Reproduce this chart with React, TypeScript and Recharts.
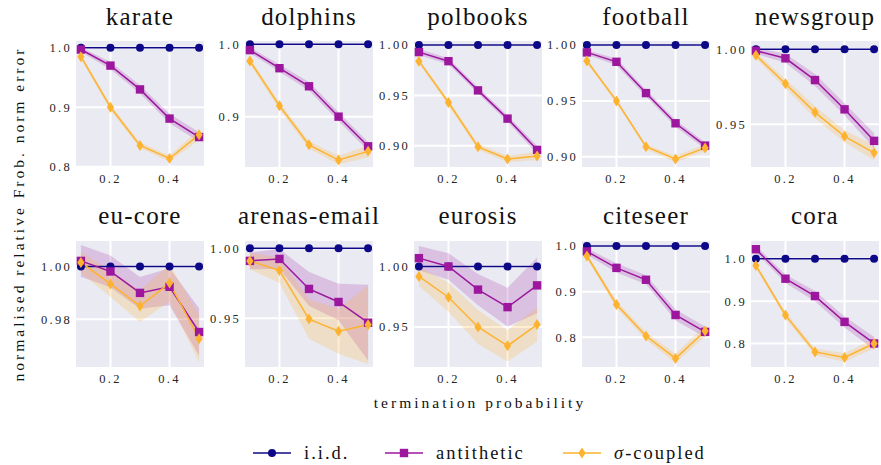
/* ── Termination probability sweep — small multiples ─────────────────── */

import { ComposedChart, Line, Area, XAxis, YAxis, CartesianGrid } from 'recharts';

const FONT = 'Liberation Serif';
const IID_COLOR = '#0d0887';
const ANTI_COLOR = '#9c179e';
const SIGMA_COLOR = '#fdb32f';
const BG = '#eaeaf2';

const PROBS = [0.1, 0.2, 0.3, 0.4, 0.5];
const X_TICKS = [0.2, 0.4];

const DATASETS = [
  'karate', 'dolphins', 'polbooks', 'football', 'newsgroup',
  'eu-core', 'arenas-email', 'eurosis', 'citeseer', 'cora',
];

const IID = [
  [1, 1, 1, 1, 1], [1, 1, 1, 1, 1], [1, 1, 1, 1, 1], [1, 1, 1, 1, 1], [1, 1, 1, 1, 1],
  [1, 1, 1, 1, 1], [1, 1, 1, 1, 1], [1, 1, 1, 1, 1], [1, 1, 1, 1, 1], [1, 1, 1, 1, 1],
];

const ANTITHETIC = [
  [0.997, 0.970, 0.930, 0.881, 0.850],
  [0.992, 0.967, 0.942, 0.900, 0.859],
  [0.993, 0.984, 0.955, 0.927, 0.896],
  [0.9934, 0.985, 0.957, 0.930, 0.910],
  [0.999, 0.994, 0.9795, 0.960, 0.939],
  [1.0021, 0.9981, 0.990, 0.9923, 0.9752],
  [0.991, 0.9924, 0.971, 0.9617, 0.9469],
  [1.0069, 1.000, 0.9809, 0.9664, 0.9844],
  [0.988, 0.952, 0.926, 0.849, 0.812],
  [1.0227, 0.953, 0.912, 0.851, 0.800],
];

const ANTITHETIC_ERR = [
  [0.004, 0.006, 0.007, 0.008, 0.008],
  [0.004, 0.005, 0.006, 0.006, 0.006],
  [0.003, 0.003, 0.003, 0.003, 0.004],
  [0.002, 0.003, 0.003, 0.003, 0.003],
  [0.002, 0.003, 0.004, 0.004, 0.005],
  [0.006, 0.006, 0.006, 0.007, 0.009],
  [0.006, 0.007, 0.012, 0.013, 0.027],
  [0.010, 0.011, 0.013, 0.016, 0.023],
  [0.007, 0.010, 0.010, 0.012, 0.012],
  [0.008, 0.010, 0.012, 0.013, 0.015],
];

const SIGMA_COUPLED = [
  [0.985, 0.900, 0.836, 0.814, 0.854],
  [0.977, 0.915, 0.861, 0.840, 0.852],
  [0.984, 0.943, 0.899, 0.887, 0.890],
  [0.9857, 0.950, 0.909, 0.898, 0.908],
  [0.996, 0.977, 0.958, 0.942, 0.931],
  [1.0015, 0.9934, 0.985, 0.9937, 0.9727],
  [0.991, 0.9842, 0.9495, 0.9408, 0.9455],
  [0.9918, 0.9746, 0.950, 0.9344, 0.952],
  [0.978, 0.872, 0.803, 0.754, 0.814],
  [0.984, 0.867, 0.780, 0.767, 0.800],
];

const SIGMA_COUPLED_ERR = [
  [0.004, 0.005, 0.005, 0.005, 0.009],
  [0.004, 0.005, 0.005, 0.006, 0.008],
  [0.002, 0.003, 0.003, 0.003, 0.004],
  [0.002, 0.002, 0.002, 0.003, 0.003],
  [0.002, 0.003, 0.004, 0.004, 0.005],
  [0.004, 0.005, 0.006, 0.007, 0.009],
  [0.006, 0.009, 0.014, 0.016, 0.028],
  [0.008, 0.012, 0.014, 0.013, 0.014],
  [0.006, 0.008, 0.008, 0.010, 0.012],
  [0.006, 0.008, 0.008, 0.010, 0.012],
];

const Y_TICKS = [
  [0.8, 0.9, 1.0], [0.9, 1.0], [0.9, 0.95, 1.0], [0.9, 0.95, 1.0], [0.95, 1.0],
  [0.98, 1.0], [0.95, 1.0], [0.95, 1.0], [0.8, 0.9, 1.0], [0.8, 0.9, 1.0],
];
const Y_DECIMALS = [1, 1, 2, 2, 2, 2, 2, 2, 1, 1];
const Y_DOMAINS = [
  [0.798, 1.013], [0.829, 1.006], [0.878, 1.005], [0.890, 1.0045], [0.9209, 1.0062],
  [0.9616, 1.010], [0.9146, 1.0059], [0.9161, 1.0219], [0.733, 1.013], [0.742, 1.0445],
];

/* layout */
const PANEL_LEFT = [75, 244, 413, 581, 750];
const ROW_TOP = [40, 240];
const PLOT_W = 130;
const PLOT_H = 128;
const Y_AXIS_W = 44;
const X_AXIS_H = 24;
const M_TOP = 8;
const M_RIGHT = 10;

/* markers */
function CircleDot({ cx, cy }: any) {
  if (cx == null || cy == null) return null;
  return <circle cx={cx} cy={cy} r={4} fill={IID_COLOR} />;
}
function SquareDot({ cx, cy }: any) {
  if (cx == null || cy == null) return null;
  return <rect x={cx - 4.2} y={cy - 4.2} width={8.4} height={8.4} fill={ANTI_COLOR} />;
}
function DiamondDot({ cx, cy }: any) {
  if (cx == null || cy == null) return null;
  return (
    <polygon
      points={`${cx},${cy - 5.5} ${cx + 3.6},${cy} ${cx},${cy + 5.5} ${cx - 3.6},${cy}`}
      fill={SIGMA_COLOR}
    />
  );
}

function Panel({ i }: { i: number }) {
  const row = Math.floor(i / 5);
  const col = i % 5;
  const data = PROBS.map((p, j) => ({
    p,
    iid: IID[i][j],
    anti: ANTITHETIC[i][j],
    antiBand: [ANTITHETIC[i][j] - ANTITHETIC_ERR[i][j], ANTITHETIC[i][j] + ANTITHETIC_ERR[i][j]],
    sigma: SIGMA_COUPLED[i][j],
    sigmaBand: [SIGMA_COUPLED[i][j] - SIGMA_COUPLED_ERR[i][j], SIGMA_COUPLED[i][j] + SIGMA_COUPLED_ERR[i][j]],
  }));
  const tickStyle = { fontFamily: FONT, fontSize: 12.5, fill: '#262626', letterSpacing: 2.3 };

  return (
    <div style={{ position: 'absolute', left: PANEL_LEFT[col] - Y_AXIS_W, top: ROW_TOP[row] - M_TOP }}>
      <ComposedChart
        width={Y_AXIS_W + PLOT_W + M_RIGHT}
        height={M_TOP + PLOT_H + X_AXIS_H}
        data={data}
        margin={{ top: M_TOP, right: M_RIGHT, bottom: 0, left: 0 }}
        style={{ overflow: 'visible', fontFamily: FONT }}
      >
        <CartesianGrid fill={BG} fillOpacity={1} stroke="#ffffff" strokeWidth={2} />
        <XAxis
          dataKey="p"
          type="number"
          domain={[0.08, 0.52]}
          ticks={X_TICKS}
          height={X_AXIS_H}
          axisLine={false}
          tickLine={false}
          tickSize={6}
          tickMargin={0}
          tick={tickStyle}
          tickFormatter={(v: number) => v.toFixed(1)}
        />
        <YAxis
          type="number"
          domain={Y_DOMAINS[i]}
          ticks={Y_TICKS[i]}
          width={Y_AXIS_W}
          axisLine={false}
          tickLine={false}
          tickSize={3}
          tickMargin={0}
          allowDataOverflow
          tick={tickStyle}
          tickFormatter={(v: number) => v.toFixed(Y_DECIMALS[i])}
        />
        <Area dataKey="antiBand" type="linear" stroke="none" fill={ANTI_COLOR} fillOpacity={0.2} isAnimationActive={false} />
        <Area dataKey="sigmaBand" type="linear" stroke="none" fill={SIGMA_COLOR} fillOpacity={0.22} isAnimationActive={false} />
        <Line dataKey="iid" type="linear" stroke={IID_COLOR} strokeWidth={1.5} dot={<CircleDot />} activeDot={false} isAnimationActive={false} />
        <Line dataKey="anti" type="linear" stroke={ANTI_COLOR} strokeWidth={1.5} dot={<SquareDot />} activeDot={false} isAnimationActive={false} />
        <Line dataKey="sigma" type="linear" stroke={SIGMA_COLOR} strokeWidth={1.5} dot={<DiamondDot />} activeDot={false} isAnimationActive={false} />
      </ComposedChart>
    </div>
  );
}

const LEGEND = [
  { label: 'i.i.d.', color: IID_COLOR, x: 253, marker: 'circle' },
  { label: 'antithetic', color: ANTI_COLOR, x: 385, marker: 'square' },
  { label: 'coupled', color: SIGMA_COLOR, x: 563, marker: 'diamond' },
];

export default function App() {
  return (
    <div
      style={{
        position: 'absolute', left: 0, top: 0, width: 881, height: 465,
        background: '#fff', overflow: 'hidden', fontFamily: "'Liberation Serif', serif",
      }}
    >
      {DATASETS.map((_, i) => <Panel key={i} i={i} />)}
      <svg width={881} height={465} style={{ position: 'absolute', left: 0, top: 0, pointerEvents: 'none' }}>
        {DATASETS.map((name, i) => (
          <text
            key={name}
            x={PANEL_LEFT[i % 5] + PLOT_W / 2}
            y={i < 5 ? 25 : 224}
            textAnchor="middle"
            fontFamily={FONT}
            fontSize={25}
            letterSpacing={1.2}
            fill="#111"
          >
            {name}
          </text>
        ))}
        <text x={480} y={408} textAnchor="middle" fontFamily={FONT} fontSize={15.5} letterSpacing={3} fill="#111">
          termination probability
        </text>
        <text
          transform="translate(24,214) rotate(-90)"
          textAnchor="middle"
          fontFamily={FONT}
          fontSize={15.5}
          letterSpacing={3}
          fill="#111"
        >
          normalised relative Frob. norm error
        </text>
        {LEGEND.map((l) => {
          const mx = l.x + 19;
          const y = 453;
          return (
            <g key={l.label}>
              <line x1={l.x} x2={l.x + 38} y1={y} y2={y} stroke={l.color} strokeWidth={1.5} />
              {l.marker === 'circle' && <circle cx={mx} cy={y} r={4} fill={l.color} />}
              {l.marker === 'square' && <rect x={mx - 4.2} y={y - 4.2} width={8.4} height={8.4} fill={l.color} />}
              {l.marker === 'diamond' && (
                <polygon points={`${mx},${y - 5.5} ${mx + 3.6},${y} ${mx},${y + 5.5} ${mx - 3.6},${y}`} fill={l.color} />
              )}
              <text x={l.x + 51} y={y + 5.5} fontFamily={FONT} fontSize={18.5} letterSpacing={2} fill="#111">
                {l.marker === 'diamond' ? (
                  <>
                    <tspan fontStyle="italic">σ</tspan>-coupled
                  </>
                ) : (
                  l.label
                )}
              </text>
            </g>
          );
        })}
      </svg>
    </div>
  );
}
